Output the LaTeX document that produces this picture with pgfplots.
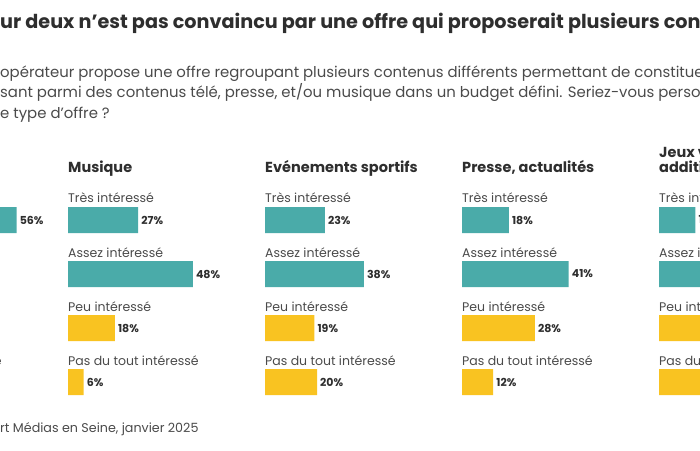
\documentclass[border=0pt]{standalone}
\usepackage{fontspec}
\setmainfont{Poppins}
\usepackage{pgfplots}
\pgfplotsset{compat=1.18}
\definecolor{barteal}{HTML}{4AABA9}
\definecolor{baryel}{HTML}{F9C321}
\definecolor{txt}{HTML}{2E2E2E}
\definecolor{subtxt}{HTML}{4A4A4A}

\pgfplotsset{panel/.style={
    xbar, bar shift=0pt, bar width=26pt,
    width=260pt, height=216pt, scale only axis,
    xmin=0, xmax=100, ymin=-0.5, ymax=3.5, y dir=reverse,
    axis lines=none, clip=false,
    point meta=x,
    /pgf/number format/assume math mode=true,
    nodes near coords={\pgfmathprintnumber{\pgfplotspointmeta}\%},
    nodes near coords style={font=\bfseries\fontsize{11}{12}\selectfont, color=txt, anchor=west, inner sep=2pt, xshift=1pt},
}}

% category labels above the bars of one panel
\newcommand\cats[1]{%
  \node[anchor=base west, inner sep=0pt, font=\fontsize{12.5}{14}\selectfont, text=subtxt] at (#1pt,247pt) {Très intéressé};
  \node[anchor=base west, inner sep=0pt, font=\fontsize{12.5}{14}\selectfont, text=subtxt] at (#1pt,193pt) {Assez intéressé};
  \node[anchor=base west, inner sep=0pt, font=\fontsize{12.5}{14}\selectfont, text=subtxt] at (#1pt,139pt) {Peu intéressé};
  \node[anchor=base west, inner sep=0pt, font=\fontsize{12.5}{14}\selectfont, text=subtxt] at (#1pt,85pt) {Pas du tout intéressé};}

\begin{document}
\begin{tikzpicture}
\path[use as bounding box] (0pt,0pt) rectangle (700pt,450pt);

% title and question
\node[anchor=base west, inner sep=0pt, font=\bfseries\fontsize{19.2}{22}\selectfont, text=txt] at (0pt,421pt)
  {ur deux n'est pas convaincu par une offre qui proposerait plusieurs contenus};
\node[anchor=base west, inner sep=0pt, font=\fontsize{14.9}{16}\selectfont, text=subtxt] at (0pt,372pt) {opérateur propose une offre regroupant plusieurs contenus différents permettant de constituer};
\node[anchor=base west, inner sep=0pt, font=\fontsize{14.9}{16}\selectfont, text=subtxt] at (0pt,352pt) {sant parmi des contenus télé, presse, et/ou musique dans un budget défini. Seriez-vous personnellement};
\node[anchor=base west, inner sep=0pt, font=\fontsize{14.9}{16}\selectfont, text=subtxt] at (0pt,331pt) {e type d’offre ?};

% panel titles
\node[anchor=base west, inner sep=0pt, font=\bfseries\fontsize{14.5}{16}\selectfont, text=txt] at (68pt,277pt) {Musique};
\node[anchor=base west, inner sep=0pt, font=\bfseries\fontsize{14.5}{16}\selectfont, text=txt] at (265pt,277pt) {Evénements sportifs};
\node[anchor=base west, inner sep=0pt, font=\bfseries\fontsize{14.5}{16}\selectfont, text=txt] at (462pt,277pt) {Presse, actualités};
\node[anchor=base west, inner sep=0pt, font=\bfseries\fontsize{14.5}{16}\selectfont, text=txt] at (659pt,292pt) {Jeux vidéo, contenus};
\node[anchor=base west, inner sep=0pt, font=\bfseries\fontsize{14.5}{16}\selectfont, text=txt] at (659pt,277pt) {additionnels};

\cats{-129}
\cats{68}
\cats{265}
\cats{462}
\cats{659}

% left panel (mostly outside the frame)
\begin{axis}[panel, at={(-129pt,257pt)}, anchor=north west]
\addplot[fill=barteal, draw=none] coordinates {(56,0) (30,1)};
\addplot[fill=baryel, draw=none] coordinates {(9,2) (5,3)};
\end{axis}

% Musique
\begin{axis}[panel, at={(68pt,257pt)}, anchor=north west]
\addplot[fill=barteal, draw=none] coordinates {(27,0) (48,1)};
\addplot[fill=baryel, draw=none] coordinates {(18,2) (6,3)};
\end{axis}

% Evenements sportifs
\begin{axis}[panel, at={(265pt,257pt)}, anchor=north west]
\addplot[fill=barteal, draw=none] coordinates {(23,0) (38,1)};
\addplot[fill=baryel, draw=none] coordinates {(19,2) (20,3)};
\end{axis}

% Presse, actualites
\begin{axis}[panel, at={(462pt,257pt)}, anchor=north west]
\addplot[fill=barteal, draw=none] coordinates {(18,0) (41,1)};
\addplot[fill=baryel, draw=none] coordinates {(28,2) (12,3)};
\end{axis}

% Jeux video (cut at the right edge)
\begin{axis}[panel, at={(659pt,257pt)}, anchor=north west]
\addplot[fill=barteal, draw=none] coordinates {(14,0) (36,1)};
\addplot[fill=baryel, draw=none] coordinates {(29,2) (25,3)};
\end{axis}

% source
\node[anchor=base west, inner sep=0pt, font=\fontsize{12.7}{15}\selectfont, text=subtxt] at (0pt,18pt)
  {rt Médias en Seine, janvier 2025};
\end{tikzpicture}
\end{document}
